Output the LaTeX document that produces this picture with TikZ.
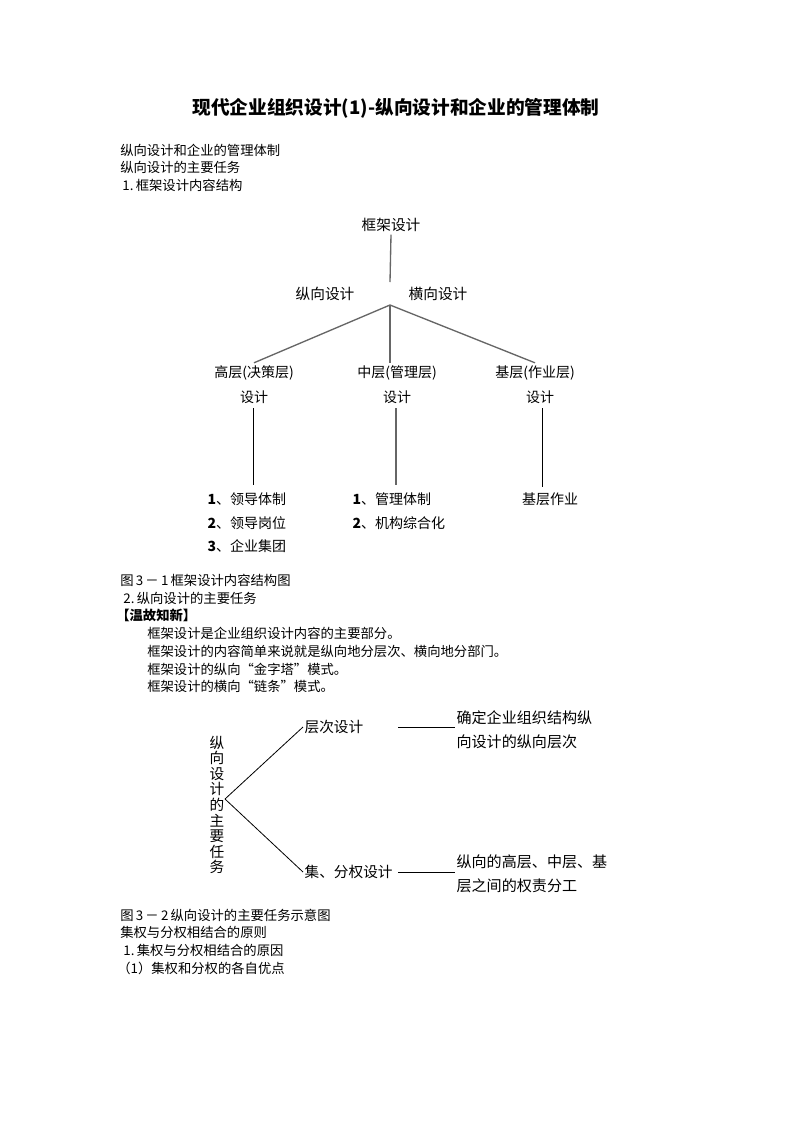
\documentclass[tikz,border=0pt]{standalone}
\usepackage{fontspec}
\setmainfont{Noto Sans CJK SC}
\begin{document}
\begin{tikzpicture}[x=0.75pt,y=-0.75pt,
  body/.style={anchor=west,inner sep=0pt,font=\fontsize{10pt}{12pt}\selectfont},
  dg/.style={inner sep=2pt,font=\fontsize{10.5pt}{13pt}\selectfont},
  dgl/.style={anchor=west,inner sep=1pt,font=\fontsize{10.5pt}{13pt}\selectfont},
  dtwo/.style={anchor=west,inner sep=1pt,font=\fontsize{11.3pt}{14pt}\selectfont},
  treeline/.style={draw=black!60,line width=1pt},
  thinline/.style={draw=black,line width=0.6pt}]
\useasboundingbox[fill=white] (0,0) rectangle (793,1122);
% title
\node[inner sep=0pt,font=\fontsize{14pt}{16pt}\selectfont\bfseries] (title) at (396,108) {现代企业组织设计(1)-纵向设计和企业的管理体制};
\node[body] (t1) at (120,150) {纵向设计和企业的管理体制};
\node[body] (t2) at (120,167) {纵向设计的主要任务};
\node[body] (t3) at (120,185) {\,1.\,框架设计内容结构};
% tree diagram
\node[dg,font=\fontsize{11pt}{13pt}\selectfont] (kj) at (391,225) {框架设计};
\coordinate (ktop) at (390,282);
\coordinate (fan) at (390,305);
\node[dg,font=\fontsize{11pt}{13pt}\selectfont] (zx) at (325,294) {纵向设计};
\node[dg,font=\fontsize{11pt}{13pt}\selectfont] (hx) at (438,294) {横向设计};
\node[dg] (gao) at (254,373) {高层(决策层)};
\node[dg] (zhong) at (397,373) {中层(管理层)};
\node[dg] (ji) at (535,373) {基层(作业层)};
\node[dg] (gsj) at (254,397) {设计};
\node[dg] (zsj) at (397,397) {设计};
\node[dg] (jsj) at (540,397) {设计};
\draw[treeline] (kj.south) -- (ktop);
\draw[treeline] (fan) -- (gao.north);
\draw[treeline] (fan) -- (fan |- zhong.north);
\draw[treeline] (fan) -- (ji.north);
\node[dgl] (g1) at (206,499) {\textbf{1}、领导体制};
\node[dgl] (g2) at (206,523) {\textbf{2}、领导岗位};
\node[dgl] (g3) at (206,546) {\textbf{3}、企业集团};
\node[dgl] (z1) at (351,499) {\textbf{1}、管理体制};
\node[dgl] (z2) at (351,523) {\textbf{2}、机构综合化};
\node[dg] (j1) at (550,499) {基层作业};
\coordinate (gend) at (253,485);
\coordinate (zend) at (396,485);
\coordinate (jend) at (542,487);
\draw[thinline] (gsj.south) ++(-1,2) -- (gend);
\draw[treeline] (zsj.south) ++(-1,2) -- (zend);
\draw[thinline] (jsj.south) ++(2,2) -- (jend);
% captions and text
\node[body] (c1) at (120,580) {图\,3\,－\,1\,框架设计内容结构图};
\node[body] (c2) at (121,598) {\,2.\,纵向设计的主要任务};
\node[body,font=\fontsize{10pt}{12pt}\selectfont\bfseries] (c3) at (116,615) {【温故知新】};
\node[body] (p1) at (147,633) {框架设计是企业组织设计内容的主要部分。};
\node[body] (p2) at (147,651) {框架设计的内容简单来说就是纵向地分层次、横向地分部门。};
\node[body] (p3) at (147,669) {框架设计的纵向“金字塔”模式。};
\node[body] (p4) at (147,686) {框架设计的横向“链条”模式。};
% second diagram
\node[inner sep=0pt,align=center,font=\fontsize{11pt}{11.7pt}\selectfont] (vt) at (217,805) {纵\\向\\设\\计\\的\\主\\要\\任\\务};
\coordinate (v) at (225,799);
\node[dtwo,font=\fontsize{11pt}{14pt}\selectfont] (cc) at (303,727) {层次设计};
\node[dtwo,font=\fontsize{11pt}{14pt}\selectfont] (jf) at (303,872) {集、分权设计};
\draw[thinline] (v) -- (cc.west);
\draw[thinline] (v) -- (jf.west);
\node[dtwo] (r1) at (455,718) {确定企业组织结构纵};
\node[dtwo] (r2) at (455,742) {向设计的纵向层次};
\node[dtwo] (s1) at (455,862) {纵向的高层、中层、基};
\node[dtwo] (s2) at (455,886) {层之间的权责分工};
\coordinate (ra) at (398,727);
\draw[thinline] (ra) -- (r1.west |- cc.west);
\draw[thinline] ([xshift=3]jf.east) -- (s1.west |- jf.east);
% bottom text
\node[body] (b1) at (120,915) {图\,3\,－\,2\,纵向设计的主要任务示意图};
\node[body] (b2) at (120,932) {集权与分权相结合的原则};
\node[body] (b3) at (121,950) {\,1.\,集权与分权相结合的原因};
\node[body] (b4) at (117,968) {（1）集权和分权的各自优点};
\end{tikzpicture}
\end{document}
